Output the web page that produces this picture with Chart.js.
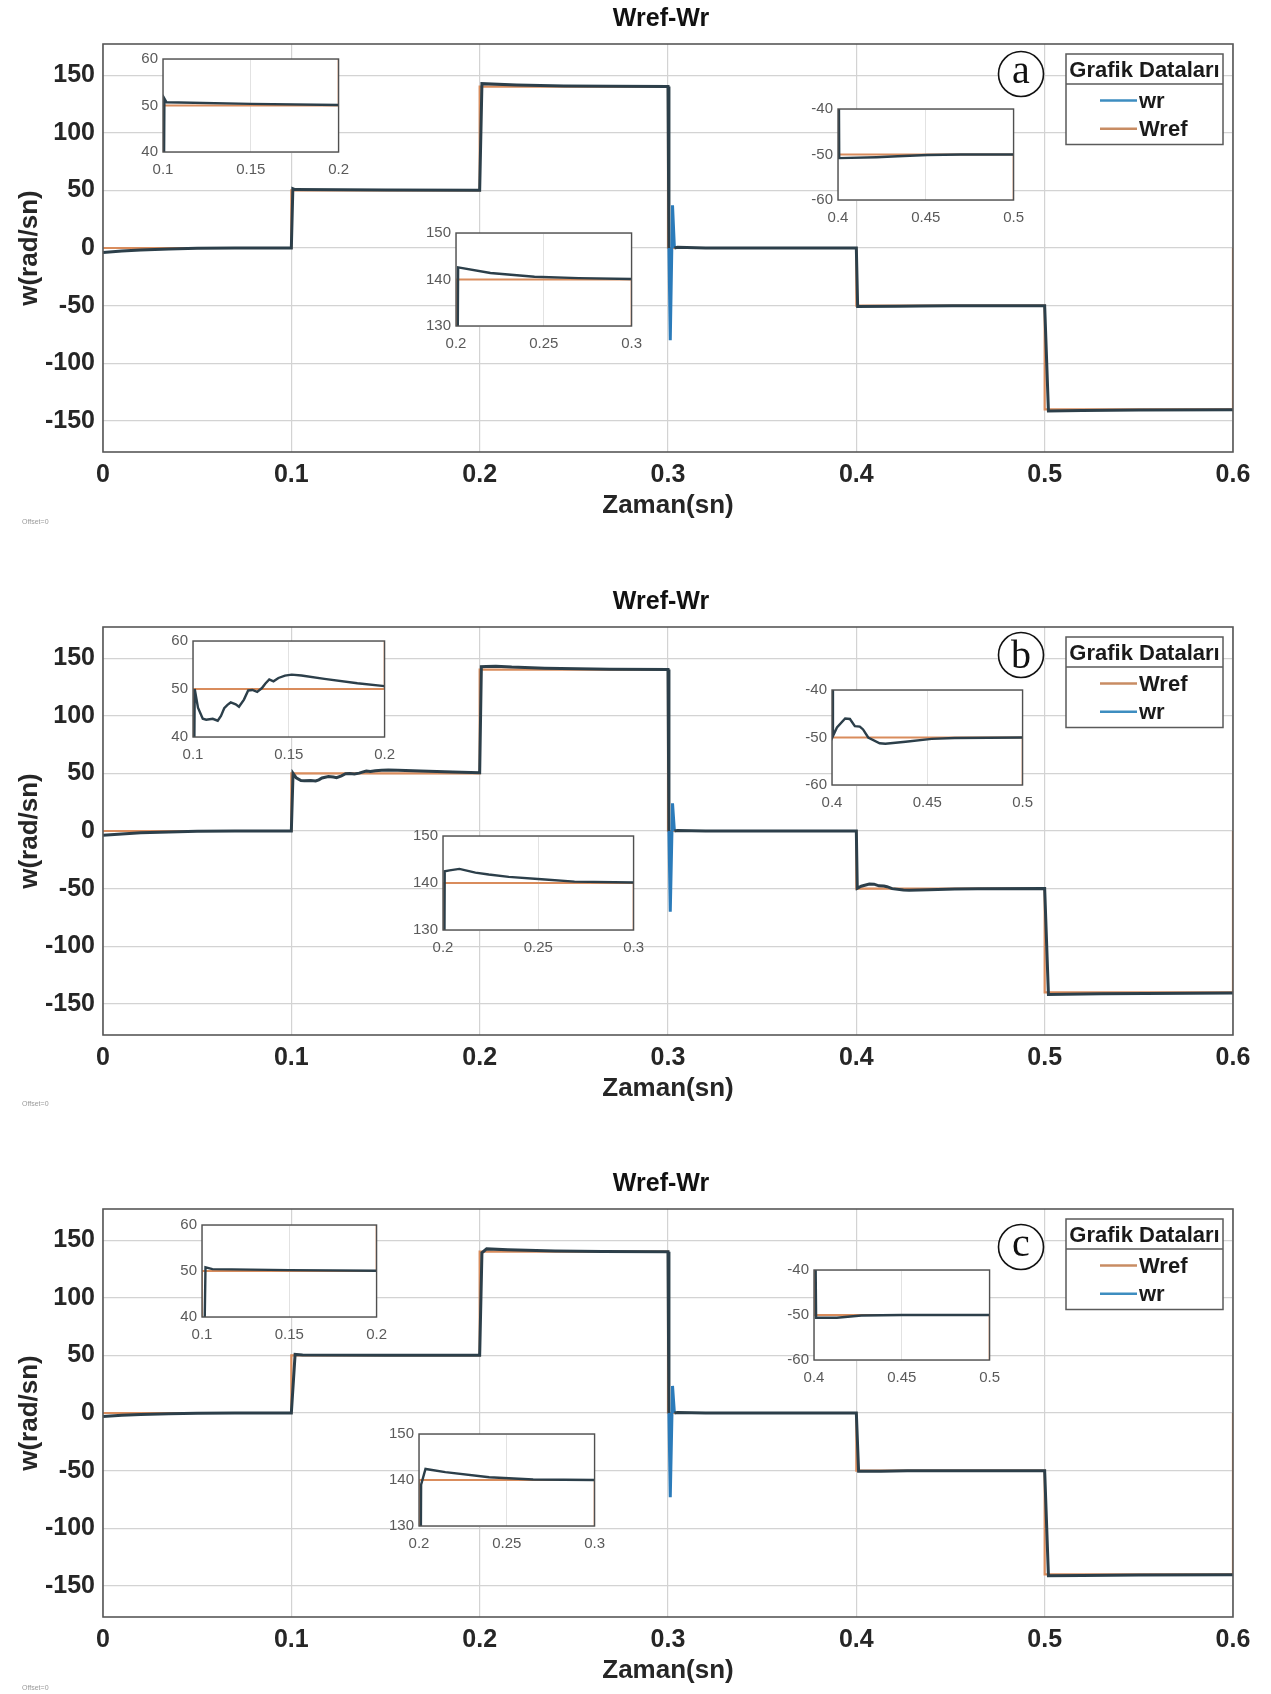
<!DOCTYPE html>
<html>
<head>
<meta charset="utf-8">
<title>Wref-Wr</title>
<script src="https://cdn.jsdelivr.net/npm/chart.js@4.4.1/dist/chart.umd.min.js"></script>
<style>
  html, body { margin: 0; padding: 0; background: #fff; }
  #page { position: relative; width: 1271px; height: 1694px; overflow: hidden; }
  #page canvas { position: absolute; }
  .offset { position: absolute; left: 22px; font: 7px "Liberation Sans", Arial, sans-serif; color: #9a9a9a; }
</style>
</head>
<body>
<div id="page"></div>
<script>
/* ── data ─────────────────────────────────────────── */
const xTicks = [0, 0.1, 0.2, 0.3, 0.4, 0.5, 0.6];
const yTicks = [-150, -100, -50, 0, 50, 100, 150];

// zoom windows
const inset1X = [0.1, 0.15, 0.2],  inset1Y = [40, 50, 60];
const inset2X = [0.2, 0.25, 0.3],  inset2Y = [130, 140, 150];
const inset3X = [0.4, 0.45, 0.5],  inset3Y = [-60, -50, -40];

// reference speed Wref (same for every run)
const refT = [0, 0.1, 0.1, 0.2, 0.2, 0.3, 0.3, 0.4, 0.4, 0.5, 0.5, 0.6, 0.6];
const refW = [0, 0, 50, 50, 140, 140, 0, 0, -50, -50, -140, -140, 0];

// measured speed wr, run (a)
const wrT_a = [0, 0.01, 0.02, 0.035, 0.05, 0.07, 0.1, 0.1008, 0.102, 0.15, 0.2,
  0.2012, 0.2196, 0.2447, 0.2698, 0.3, 0.3005, 0.3012, 0.3024, 0.3034, 0.305, 0.32,
  0.4, 0.4007, 0.422, 0.434, 0.451, 0.47, 0.5, 0.502, 0.52, 0.55, 0.6];
const wrW_a = [-4, -2.6, -1.7, -0.8, -0.3, 0, 0, 51.5, 50.7, 50.35, 50.1,
  142.6, 141.4, 140.6, 140.3, 140.1, 0, -80, 37, 0, 0.6, 0,
  0, -50.8, -50.6, -50.4, -50.1, -50, -50, -141.5, -141.1, -140.6, -140.3];

// measured speed wr, run (b)
const wrT_b = [0, 0.01, 0.02, 0.035, 0.05, 0.07, 0.1, 0.1009, 0.1026, 0.1051, 0.1069,
  0.1103, 0.1129, 0.1146, 0.1163, 0.118, 0.1197, 0.1223, 0.124, 0.1266, 0.1288, 0.131,
  0.1335, 0.136, 0.1377, 0.1398, 0.142, 0.1446, 0.148, 0.1515, 0.1566, 0.1686, 0.1858, 0.2,
  0.2009, 0.2034, 0.2086, 0.217, 0.224, 0.2345, 0.2517, 0.269, 0.3,
  0.3005, 0.3012, 0.3024, 0.3034, 0.305, 0.32,
  0.4, 0.4005, 0.4026, 0.4069, 0.4094, 0.412, 0.4146, 0.4163, 0.419, 0.425,
  0.428, 0.4386, 0.4523, 0.4643, 0.5, 0.502, 0.53, 0.6];
const wrW_b = [-3.8, -2.5, -1.6, -0.8, -0.3, 0, 0, 50, 46.1, 43.8, 43.6,
  43.8, 43.4, 44.4, 46, 46.7, 47.2, 46.8, 46.3, 47.8, 49.7, 49.8,
  49.4, 50.2, 51.1, 52, 51.6, 52.3, 52.8, 53, 52.8, 52.1, 51.2, 50.6,
  142.5, 142.7, 143, 142.2, 141.8, 141.3, 140.8, 140.3, 140.1,
  0, -70, 24, 0, 0.5, 0,
  0, -49.7, -47.9, -46, -46.1, -47.6, -47.7, -48.3, -50, -51.2,
  -51.3, -50.9, -50.3, -50.1, -50, -141.8, -141.2, -140.6];

// measured speed wr, run (c)
const wrT_c = [0, 0.01, 0.02, 0.035, 0.05, 0.07, 0.1, 0.102, 0.106, 0.15, 0.2,
  0.2012, 0.2037, 0.215, 0.24, 0.265, 0.3, 0.3005, 0.3012, 0.3024, 0.3034, 0.305, 0.32,
  0.4, 0.4012, 0.413, 0.427, 0.45, 0.5, 0.502, 0.52, 0.55, 0.6];
const wrW_c = [-3, -2, -1.3, -0.6, -0.2, 0, 0, 50.8, 50.4, 50.2, 50.05,
  139, 142.4, 141.7, 140.6, 140.1, 140, 0, -73, 23.5, 0, 0.5, 0,
  0, -50.6, -50.6, -50.1, -50, -50, -141.3, -141, -140.6, -140.3];

/* ── style ────────────────────────────────────────── */
const FONT = '"Liberation Sans", Arial, Helvetica, sans-serif';
const WR_COLOR    = '#2c3f4a';
const SPIKE_COLOR = '#2b7bba';
const REF_COLOR   = '#d98c5c';
const WR_KEY      = '#3d8dc0';   // legend swatches
const REF_KEY     = '#c88c63';

// layout of the three panels (page pixels)
const panels = [
  { letter: 'a', top: 0,    wrT: wrT_a, wrW: wrW_a, keys: ['wr', 'Wref'], circleY: 30, offsetY: 518,
    insets: [[163, 57, 342, 152], [456, 231, 635, 326], [838, 107, 1017, 200]] },
  { letter: 'b', top: 583,  wrT: wrT_b, wrW: wrW_b, keys: ['Wref', 'wr'], circleY: 28, offsetY: 1100,
    insets: [[193, 639, 388, 737], [443, 834, 637, 930], [832, 688, 1026, 785]] },
  { letter: 'c', top: 1165, wrT: wrT_c, wrW: wrW_c, keys: ['Wref', 'wr'], circleY: 38, offsetY: 1684,
    insets: [[202, 1223, 380, 1317], [419, 1432, 598, 1526], [814, 1268, 993, 1360]] },
];

const page = document.getElementById('page');

function pts(ts, vs) { return ts.map((t, i) => ({ x: t, y: vs[i] })); }
function fixedTicks(values) { return s => { s.ticks = values.map(v => ({ value: v })); }; }
const spikeSeg = c => (c.p0.parsed.x >= 0.3004 && c.p0.parsed.x < 0.3033) ? SPIKE_COLOR : undefined;

/* ─── plugins ──────────────────────────────────────── */
const framePlugin = {
  id: 'frame',
  beforeDraw(chart, args, o) {
    if (!o.fill) return;
    const a = chart.chartArea, ctx = chart.ctx;
    ctx.save();
    ctx.fillStyle = o.fill;
    ctx.fillRect(a.left, a.top, a.width, a.height);
    ctx.restore();
  },
  afterDraw(chart, args, o) {
    const a = chart.chartArea, ctx = chart.ctx;
    ctx.save();
    ctx.strokeStyle = o.color;
    ctx.lineWidth = o.width;
    ctx.strokeRect(a.left, a.top, a.width, a.height);
    ctx.restore();
  }
};

function makeExtras(p) {
  return {
    id: 'extras',
    afterDraw(chart) {
      const ctx = chart.ctx, a = chart.chartArea;
      ctx.save();
      // title
      ctx.fillStyle = '#111';
      ctx.font = `bold 25px ${FONT}`;
      ctx.textAlign = 'center';
      ctx.textBaseline = 'middle';
      ctx.fillText('Wref-Wr', 661, a.top - 24.5);

      // circled letter
      const cx = 1021, cy = a.top + p.circleY;
      ctx.beginPath();
      ctx.arc(cx, cy, 22.5, 0, Math.PI * 2);
      ctx.fillStyle = '#fff';
      ctx.fill();
      ctx.strokeStyle = '#111';
      ctx.lineWidth = 1.6;
      ctx.stroke();
      ctx.fillStyle = '#111';
      ctx.font = '40px "Liberation Serif", "DejaVu Serif", serif';
      ctx.textBaseline = 'alphabetic';
      ctx.fillText(p.letter, cx, cy + (p.letter === 'b' ? 13 : 9));

      // legend box
      const x0 = 1066, x1 = 1223, y0 = a.top + 10, y1 = a.top + 100.5;
      ctx.fillStyle = '#fff';
      ctx.fillRect(x0, y0, x1 - x0, y1 - y0);
      ctx.strokeStyle = '#5a5a5a';
      ctx.lineWidth = 1.5;
      ctx.strokeRect(x0, y0, x1 - x0, y1 - y0);
      ctx.beginPath();
      ctx.moveTo(x0, a.top + 40);
      ctx.lineTo(x1, a.top + 40);
      ctx.stroke();
      ctx.fillStyle = '#1a1a1a';
      ctx.font = `bold 22px ${FONT}`;
      ctx.textAlign = 'center';
      ctx.textBaseline = 'middle';
      ctx.fillText('Grafik Dataları', (x0 + x1) / 2, a.top + 27);
      ctx.textAlign = 'left';
      p.keys.forEach((k, i) => {
        const y = a.top + 56.5 + i * 28.3;
        ctx.strokeStyle = k === 'wr' ? WR_KEY : REF_KEY;
        ctx.lineWidth = 2.6;
        ctx.beginPath();
        ctx.moveTo(1100, y);
        ctx.lineTo(1137, y);
        ctx.stroke();
        ctx.fillStyle = '#1a1a1a';
        ctx.fillText(k, 1139, y + 1);
      });
      ctx.restore();
    }
  };
}

/* ─── charts ───────────────────────────────────────── */
function datasets(p, wrWidth, refWidth) {
  return [
    { label: 'wr', data: pts(p.wrT, p.wrW), borderColor: WR_COLOR, borderWidth: wrWidth,
      order: 0, segment: { borderColor: spikeSeg } },
    { label: 'Wref', data: pts(refT, refW), borderColor: REF_COLOR, borderWidth: refWidth, order: 1 },
  ];
}

function mainChart(p) {
  const cv = document.createElement('canvas');
  cv.width = 1271; cv.height = 532;
  cv.style.left = '0px';
  cv.style.top = p.top + 'px';
  page.appendChild(cv);

  const tickFont = { family: FONT, size: 25, weight: 'bold' };
  const titleFont = { family: FONT, size: 26, weight: 'bold' };

  new Chart(cv, {
    type: 'line',
    data: { datasets: datasets(p, 3, 2.2) },
    options: {
      responsive: false,
      animation: false,
      devicePixelRatio: 1,
      layout: { padding: { top: 44, right: 38, left: 0, bottom: 0 } },
      elements: { point: { radius: 0 }, line: { tension: 0 } },
      plugins: {
        legend: { display: false },
        tooltip: { enabled: false },
        frame: { color: '#585858', width: 1.6 },
      },
      scales: {
        x: {
          type: 'linear', min: 0, max: 0.6,
          afterBuildTicks: fixedTicks(xTicks),
          afterFit: s => { s.height = 80; },
          ticks: { font: tickFont, color: '#262626', padding: 8.5, maxRotation: 0, autoSkip: false,
                   callback: v => String(v) },
          grid: { color: '#d3d3d3', lineWidth: 1.2, drawTicks: false },
          border: { display: false },
          title: { display: true, text: 'Zaman(sn)', font: titleFont, color: '#262626',
                   padding: { top: 0, bottom: 10.4 } },
        },
        y: {
          type: 'linear', min: -177, max: 177,
          afterBuildTicks: fixedTicks(yTicks),
          afterFit: s => { s.width = 103; },
          ticks: { font: tickFont, color: '#262626', padding: 8, autoSkip: false,
                   callback: v => String(v) },
          grid: { color: '#d3d3d3', lineWidth: 1.2, drawTicks: false },
          border: { display: false },
          title: { display: true, text: 'w(rad/sn)', font: titleFont, color: '#262626',
                   padding: { top: 14.4, bottom: 0 } },
        },
      },
    },
    plugins: [framePlugin, makeExtras(p)],
  });
}

function insetChart(p, box, tx, ty) {
  const padL = 32, padT = 12, padR = 16, padB = 30;
  const w = box[2] - box[0], h = box[3] - box[1];
  const cv = document.createElement('canvas');
  cv.width = w + padL + padR; cv.height = h + padT + padB;
  cv.style.left = (box[0] - padL) + 'px';
  cv.style.top = (box[1] - padT) + 'px';
  page.appendChild(cv);

  const tickFont = { family: FONT, size: 15 };
  new Chart(cv, {
    type: 'line',
    data: { datasets: datasets(p, 2.4, 1.8) },
    options: {
      responsive: false,
      animation: false,
      devicePixelRatio: 1,
      layout: { padding: { top: padT, right: padR, left: 0, bottom: 0 } },
      elements: { point: { radius: 0 }, line: { tension: 0 } },
      plugins: {
        legend: { display: false },
        tooltip: { enabled: false },
        frame: { color: '#505050', width: 1.4, fill: '#fff' },
      },
      scales: {
        x: {
          type: 'linear', min: tx[0], max: tx[tx.length - 1],
          afterBuildTicks: fixedTicks(tx),
          afterFit: s => { s.height = padB; },
          ticks: { font: tickFont, color: '#5a5a5a', padding: 9, maxRotation: 0, autoSkip: false,
                   callback: v => String(v) },
          grid: { color: '#e2e2e2', lineWidth: 1, drawTicks: false },
          border: { display: false },
        },
        y: {
          type: 'linear', min: ty[0], max: ty[ty.length - 1],
          afterBuildTicks: fixedTicks(ty),
          afterFit: s => { s.width = padL; },
          ticks: { font: tickFont, color: '#5a5a5a', padding: 5, autoSkip: false,
                   callback: v => String(v) },
          grid: { color: '#e2e2e2', lineWidth: 1, drawTicks: false },
          border: { display: false },
        },
      },
    },
    plugins: [framePlugin],
  });
}

panels.forEach(p => {
  mainChart(p);
  insetChart(p, p.insets[0], inset1X, inset1Y);
  insetChart(p, p.insets[1], inset2X, inset2Y);
  insetChart(p, p.insets[2], inset3X, inset3Y);
  const off = document.createElement('div');
  off.className = 'offset';
  off.style.top = p.offsetY + 'px';
  off.textContent = 'Offset=0';
  page.appendChild(off);
});
</script>
</body>
</html>
